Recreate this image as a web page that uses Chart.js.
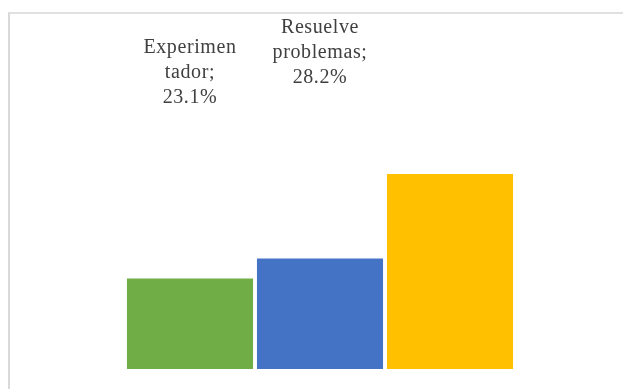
<!DOCTYPE html>
<html>
<head>
<meta charset="utf-8">
<script src="https://cdn.jsdelivr.net/npm/chart.js@4/dist/chart.umd.min.js"></script>
<style>
  html, body { margin: 0; padding: 0; background: #fff; overflow: hidden; }
  #wrap { position: relative; width: 623px; height: 389px; }
  #frame {
    position: absolute; left: 8px; top: 12px; width: 700px; height: 500px;
    border-left: 2px solid #d9d9d9; border-top: 2px solid #e0e0e0;
  }
  #bar-chart { position: absolute; left: 0; top: 0; }
</style>
</head>
<body>
<div id="wrap">
  <div id="frame"></div>
  <canvas id="bar-chart" width="623" height="389"></canvas>
</div>
<script>
var categories = ["Experimentador", "Resuelve problemas", "Creativo"];
// wrapped name lines used in the data labels
var nameLines = [["Experimen", "tador;"], ["Resuelve", "problemas;"], ["Creativo;"]];
var percents = [23.1, 28.2, 49.8];
var barColors = ["#70AD47", "#4472C4", "#FFC000"];

// labels sit a fixed distance above each bar: name lines, then the value
var barLabels = {
  id: 'barLabels',
  afterDatasetsDraw: function (chart) {
    var ctx = chart.ctx;
    var meta = chart.getDatasetMeta(0);
    ctx.save();
    ctx.font = '20px "Liberation Serif", "Times New Roman", serif';
    ctx.fillStyle = '#404040';
    ctx.textAlign = 'center';
    ctx.textBaseline = 'alphabetic';
    if ('letterSpacing' in ctx) ctx.letterSpacing = '0.6px';
    meta.data.forEach(function (bar, i) {
      var lines = nameLines[i].concat([percents[i].toFixed(1) + '%']);
      var base = bar.y - 175.5;
      for (var k = lines.length - 1; k >= 0; k--) {
        ctx.fillText(lines[k], bar.x, base - (lines.length - 1 - k) * 25);
      }
    });
    ctx.restore();
  }
};

new Chart(document.getElementById("bar-chart"), {
  type: 'bar',
  data: {
    labels: categories,
    datasets: [{
      data: percents,
      backgroundColor: barColors,
      borderWidth: 0,
      categoryPercentage: 1,
      barPercentage: 0.97
    }]
  },
  options: {
    responsive: false,
    animation: false,
    layout: { padding: { left: 125, right: 108, top: 134, bottom: 20 } },
    plugins: {
      legend: { display: false },
      tooltip: { enabled: false }
    },
    scales: {
      x: { display: false },
      y: { display: false, min: 0, max: 60 }
    }
  },
  plugins: [barLabels]
});
</script>
</body>
</html>
